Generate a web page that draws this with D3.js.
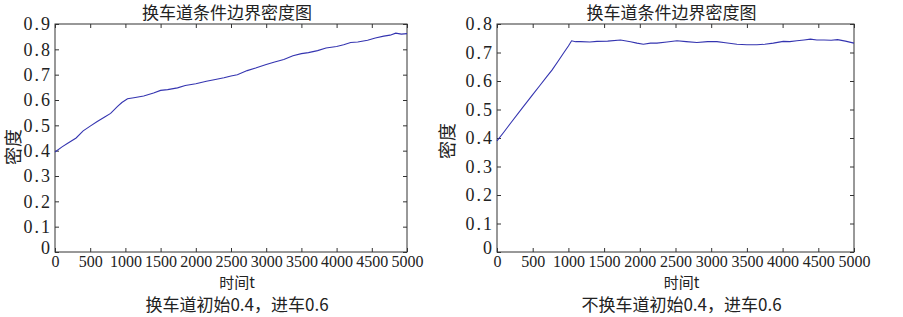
<!DOCTYPE html>
<html>
  <head>
    <meta charset="utf-8">
    <script src="https://d3js.org/d3.v7.min.js"></script>
    <style>
    body { margin: 0; background: white; }
    .cjk { font-family: "Noto Sans CJK SC", sans-serif; fill: #222; }
    </style>
  </head>
  <body>
    <script>
      var width = 903, height = 317;

      // left chart: lane change allowed
      var leftT = [0,100,175,300,400,500,600,700,790,885,950,1030,1120,1260,1400,1500,1600,1740,1850,2000,2150,2260,2400,2500,2590,2730,2850,3000,3120,3250,3380,3500,3600,3730,3850,4000,4100,4200,4300,4440,4550,4670,4760,4840,4920,5000];
      var leftD = [0.395,0.415,0.428,0.450,0.478,0.497,0.515,0.532,0.547,0.574,0.590,0.605,0.609,0.616,0.628,0.638,0.641,0.648,0.657,0.664,0.674,0.680,0.688,0.695,0.700,0.716,0.726,0.740,0.750,0.760,0.775,0.783,0.787,0.795,0.805,0.811,0.818,0.827,0.829,0.836,0.845,0.852,0.856,0.864,0.860,0.862];

      // right chart: no lane change
      var rightT = [0,100,187,350,500,606,700,770,860,940,1000,1045,1100,1170,1300,1400,1550,1730,1870,1960,2050,2150,2240,2380,2520,2650,2800,2950,3080,3200,3360,3500,3640,3750,3870,4010,4100,4200,4300,4390,4480,4580,4680,4770,4880,5000];
      var rightD = [0.390,0.422,0.451,0.504,0.552,0.586,0.616,0.638,0.671,0.701,0.723,0.741,0.738,0.738,0.737,0.739,0.740,0.744,0.738,0.733,0.729,0.733,0.733,0.737,0.741,0.738,0.735,0.738,0.738,0.734,0.729,0.727,0.727,0.729,0.733,0.739,0.738,0.741,0.744,0.747,0.744,0.744,0.743,0.745,0.740,0.733];

      var xTicks = [0,500,1000,1500,2000,2500,3000,3500,4000,4500,5000];
      var leftYTicks = [0,0.1,0.2,0.3,0.4,0.5,0.6,0.7,0.8,0.9];
      var rightYTicks = [0,0.1,0.2,0.3,0.4,0.5,0.6,0.7,0.8];

      var title = "换车道条件边界密度图";
      var xLabel = "时间t";
      var yLabel = "密度";

      var svg = d3.select("body").append("svg")
                  .attr("width", width)
                  .attr("height", height);

      var serif = '"Liberation Serif", "DejaVu Serif", serif';

      function drawPanel(box, ts, ds, yTicks, yMax, caption) {
        var x = d3.scaleLinear().domain([0, 5000]).range([box.x0, box.x1]);
        var y = d3.scaleLinear().domain([0, yMax]).range([box.y1, box.y0]);
        var g = svg.append("g");

        // frame
        g.append("rect")
          .attr("x", box.x0).attr("y", box.y0)
          .attr("width", box.x1 - box.x0).attr("height", box.y1 - box.y0)
          .attr("fill", "none").attr("stroke", "#333").attr("stroke-width", 1);

        // axes, ticks pointing inward
        var xa = g.append("g").attr("transform", "translate(0," + box.y1 + ")")
          .call(d3.axisBottom(x).tickValues(xTicks).tickSizeInner(-4).tickSizeOuter(0).tickPadding(4).tickFormat(d3.format("d")));
        var xt = g.append("g").attr("transform", "translate(0," + box.y0 + ")")
          .call(d3.axisTop(x).tickValues(xTicks).tickSizeInner(-4).tickSizeOuter(0).tickFormat(""));
        var ya = g.append("g").attr("transform", "translate(" + box.x0 + ",0)")
          .call(d3.axisLeft(y).tickValues(yTicks).tickSizeInner(-4).tickSizeOuter(0).tickPadding(3).tickFormat(d3.format("~g")));
        var yr = g.append("g").attr("transform", "translate(" + box.x1 + ",0)")
          .call(d3.axisRight(y).tickValues(yTicks).tickSizeInner(-4).tickSizeOuter(0).tickFormat(""));

        [xa, xt, ya, yr].forEach(function(a) {
          a.select(".domain").remove();
          a.selectAll(".tick line").attr("stroke", "#333");
        });
        xa.selectAll(".tick text")
          .style("font-family", serif).style("font-size", "16px")
          .attr("fill", "#222").attr("dy", "0.68em");
        ya.selectAll(".tick text")
          .style("font-family", serif).style("font-size", "18px")
          .style("letter-spacing", "2px").attr("fill", "#222");
        ya.selectAll(".tick").filter(function(d) { return d === 0; })
          .select("text").attr("dy", "0.1em");

        // series
        var line = d3.line()
          .x(function(d, i) { return x(ts[i]); })
          .y(function(d) { return y(d); });
        g.append("path")
          .datum(ds)
          .attr("d", line)
          .attr("fill", "none")
          .attr("stroke", "#3434b0")
          .attr("stroke-width", 1.1);

        var cx = (box.x0 + box.x1) / 2;
        g.append("text").attr("class", "cjk")
          .attr("x", cx - 4).attr("y", 19)
          .attr("text-anchor", "middle").style("font-size", "17px")
          .text(title);
        g.append("text").attr("class", "cjk")
          .attr("x", cx + 6).attr("y", 288)
          .attr("text-anchor", "middle").style("font-size", "15px")
          .text(xLabel);
        g.append("text").attr("class", "cjk")
          .attr("x", cx + 6).attr("y", 311)
          .attr("text-anchor", "middle").style("font-size", "17px")
          .text(caption);
        g.append("text").attr("class", "cjk")
          .attr("transform", "translate(" + box.labelX + "," + box.labelY + ") rotate(-90)")
          .attr("text-anchor", "middle").style("font-size", "18px")
          .text(yLabel);
      }

      drawPanel({x0: 55, x1: 407, y0: 24, y1: 252, labelX: 20, labelY: 147}, leftT, leftD, leftYTicks, 0.9, "换车道初始0.4，进车0.6");
      drawPanel({x0: 497, x1: 854, y0: 24, y1: 252, labelX: 454, labelY: 141}, rightT, rightD, rightYTicks, 0.8, "不换车道初始0.4，进车0.6");
    </script>
  </body>
</html>
